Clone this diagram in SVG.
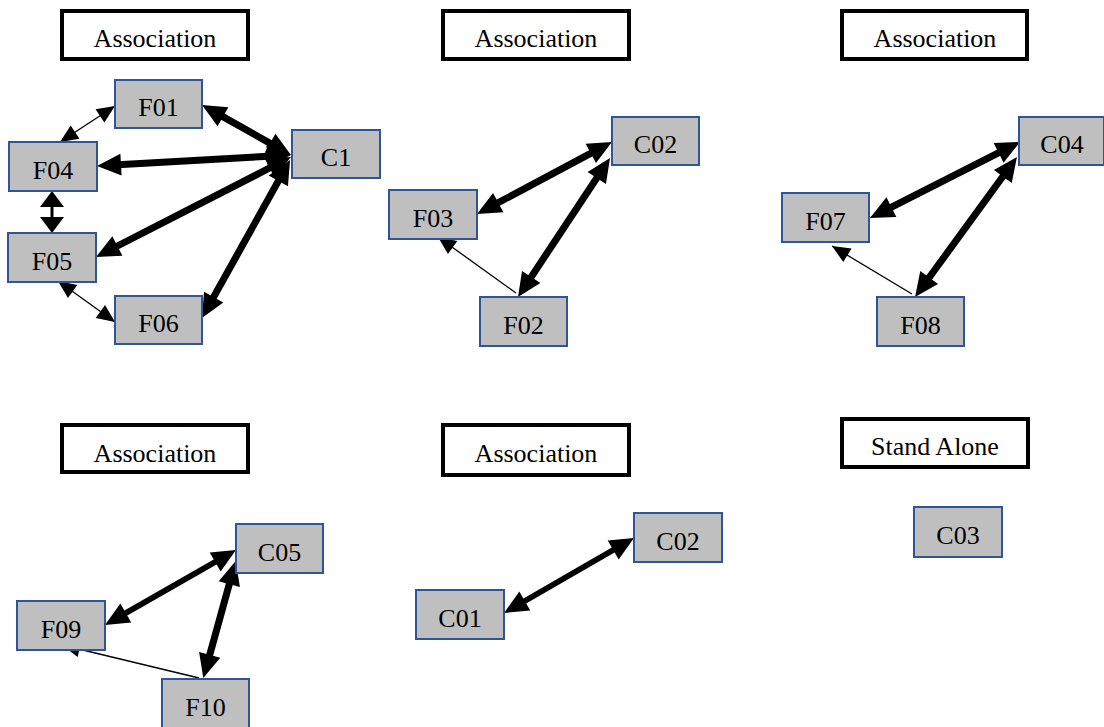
<svg xmlns="http://www.w3.org/2000/svg" width="1104" height="727" viewBox="0 0 1104 727">
<style>
.lbl{fill:#fff;stroke:#000;stroke-width:4}
.nd{fill:#bfbfbf;stroke:#2f5597;stroke-width:2}
text{font-family:"Liberation Serif","Times New Roman",serif;font-size:26px;fill:#000;text-anchor:middle}
.thick{stroke:#000;stroke-width:7;fill:none;marker-start:url(#hk);marker-end:url(#hk)}
.thin{stroke:#000;stroke-width:1.3;fill:none;marker-start:url(#hn);marker-end:url(#hn)}
.thin1{stroke:#000;stroke-width:1.3;fill:none;marker-end:url(#hn)}
.mid{stroke:#000;stroke-width:3;fill:none;marker-start:url(#hm);marker-end:url(#hm)}
</style>
<defs>
<marker id="hk" markerUnits="userSpaceOnUse" markerWidth="24" markerHeight="22" refX="12" refY="11" orient="auto-start-reverse" overflow="visible"><path d="M0,0 L24,11 L0,22 z" fill="#000"/></marker>
<marker id="hn" markerUnits="userSpaceOnUse" markerWidth="18" markerHeight="16" refX="18" refY="8" orient="auto-start-reverse" overflow="visible"><path d="M0,0 L18,8 L0,16 z" fill="#000"/></marker>
<marker id="hm" markerUnits="userSpaceOnUse" markerWidth="16" markerHeight="24" refX="12" refY="12" orient="auto-start-reverse" overflow="visible"><path d="M0,0 L16,12 L0,24 z" fill="#000"/></marker>
</defs>
<rect width="1104" height="727" fill="#fff"/>
<g id="titles">
<g id="t1"><rect class="lbl" x="62" y="11" width="186" height="48"/><text x="155" y="47">Association</text></g>
<g id="t2"><rect class="lbl" x="443" y="11" width="186" height="48"/><text x="536" y="47">Association</text></g>
<g id="t3"><rect class="lbl" x="842" y="11" width="185" height="48"/><text x="935" y="47">Association</text></g>
<g id="t4"><rect class="lbl" x="62" y="425" width="186" height="47"/><text x="155" y="462">Association</text></g>
<g id="t5"><rect class="lbl" x="443" y="425" width="186" height="50"/><text x="536" y="462">Association</text></g>
<g id="t6"><rect class="lbl" x="842" y="419" width="186" height="48"/><text x="935" y="455">Stand Alone</text></g>
</g>
<g id="connectors">
<line class="thick" x1="212.5" y1="110.9" x2="280.5" y2="149.1"/>
<line class="thick" x1="109" y1="165.3" x2="279" y2="155.7"/>
<line class="thick" x1="106.7" y1="251.5" x2="280.3" y2="162.5"/>
<line class="thick" x1="207.8" y1="307.5" x2="284.2" y2="170.5"/>
<line class="thin" x1="115" y1="106" x2="60" y2="142"/>
<line class="thin" x1="58" y1="281" x2="115" y2="322"/>
<line class="mid" x1="52" y1="195" x2="52" y2="229"/>
<line class="thick" x1="487.6" y1="208.3" x2="601.4" y2="147.7"/>
<line class="thick" x1="603.4" y1="168" x2="524.6" y2="287"/>
<line class="thin1" x1="516" y1="293" x2="438" y2="237"/>
<line class="thick" x1="880.7" y1="212.6" x2="1009.3" y2="147.4"/>
<line class="thick" x1="1009.9" y1="166.7" x2="922.1" y2="287.3"/>
<line class="thin1" x1="912" y1="294" x2="832" y2="246"/>
<line class="thick" style="stroke-width:6" x1="115.4" y1="619" x2="225.6" y2="556"/>
<line class="thick" x1="232.5" y1="572.5" x2="206.5" y2="666.5"/>
<line class="thin1" x1="199" y1="678" x2="62" y2="645"/>
<line class="thick" style="stroke-width:5.5" x1="514.4" y1="607" x2="623.6" y2="544"/>
</g>
<g id="F01"><rect class="nd" x="115" y="80" width="87" height="48"/><text x="158.5" y="116">F01</text></g>
<g id="C1"><rect class="nd" x="292" y="130" width="88" height="48"/><text x="336" y="166">C1</text></g>
<g id="F04"><rect class="nd" x="9" y="142" width="88" height="49"/><text x="53" y="179">F04</text></g>
<g id="F05"><rect class="nd" x="8" y="233" width="88" height="49"/><text x="52" y="270">F05</text></g>
<g id="F06"><rect class="nd" x="115" y="296" width="87" height="48"/><text x="158.5" y="332">F06</text></g>
<g id="C02a"><rect class="nd" x="612" y="117" width="87" height="48"/><text x="655.5" y="153">C02</text></g>
<g id="F03"><rect class="nd" x="389" y="190" width="88" height="49"/><text x="433" y="227">F03</text></g>
<g id="F02"><rect class="nd" x="480" y="297" width="87" height="49"/><text x="523.5" y="334">F02</text></g>
<g id="C04"><rect class="nd" x="1019" y="117" width="85" height="48"/><text x="1062" y="153">C04</text></g>
<g id="F07"><rect class="nd" x="782" y="193" width="87" height="49"/><text x="825.5" y="230">F07</text></g>
<g id="F08"><rect class="nd" x="877" y="297" width="87" height="49"/><text x="920.5" y="334">F08</text></g>
<g id="C05"><rect class="nd" x="236" y="524" width="87" height="49"/><text x="279.5" y="561">C05</text></g>
<g id="F09"><rect class="nd" x="17" y="601" width="88" height="49"/><text x="61" y="638">F09</text></g>
<g id="F10"><rect class="nd" x="162" y="679" width="87" height="49"/><text x="205.5" y="716">F10</text></g>
<g id="C02b"><rect class="nd" x="634" y="513" width="88" height="49"/><text x="678" y="550">C02</text></g>
<g id="C01"><rect class="nd" x="416" y="590" width="88" height="49"/><text x="460" y="627">C01</text></g>
<g id="C03"><rect class="nd" x="914" y="507" width="88" height="50"/><text x="958" y="544">C03</text></g>
</svg>
